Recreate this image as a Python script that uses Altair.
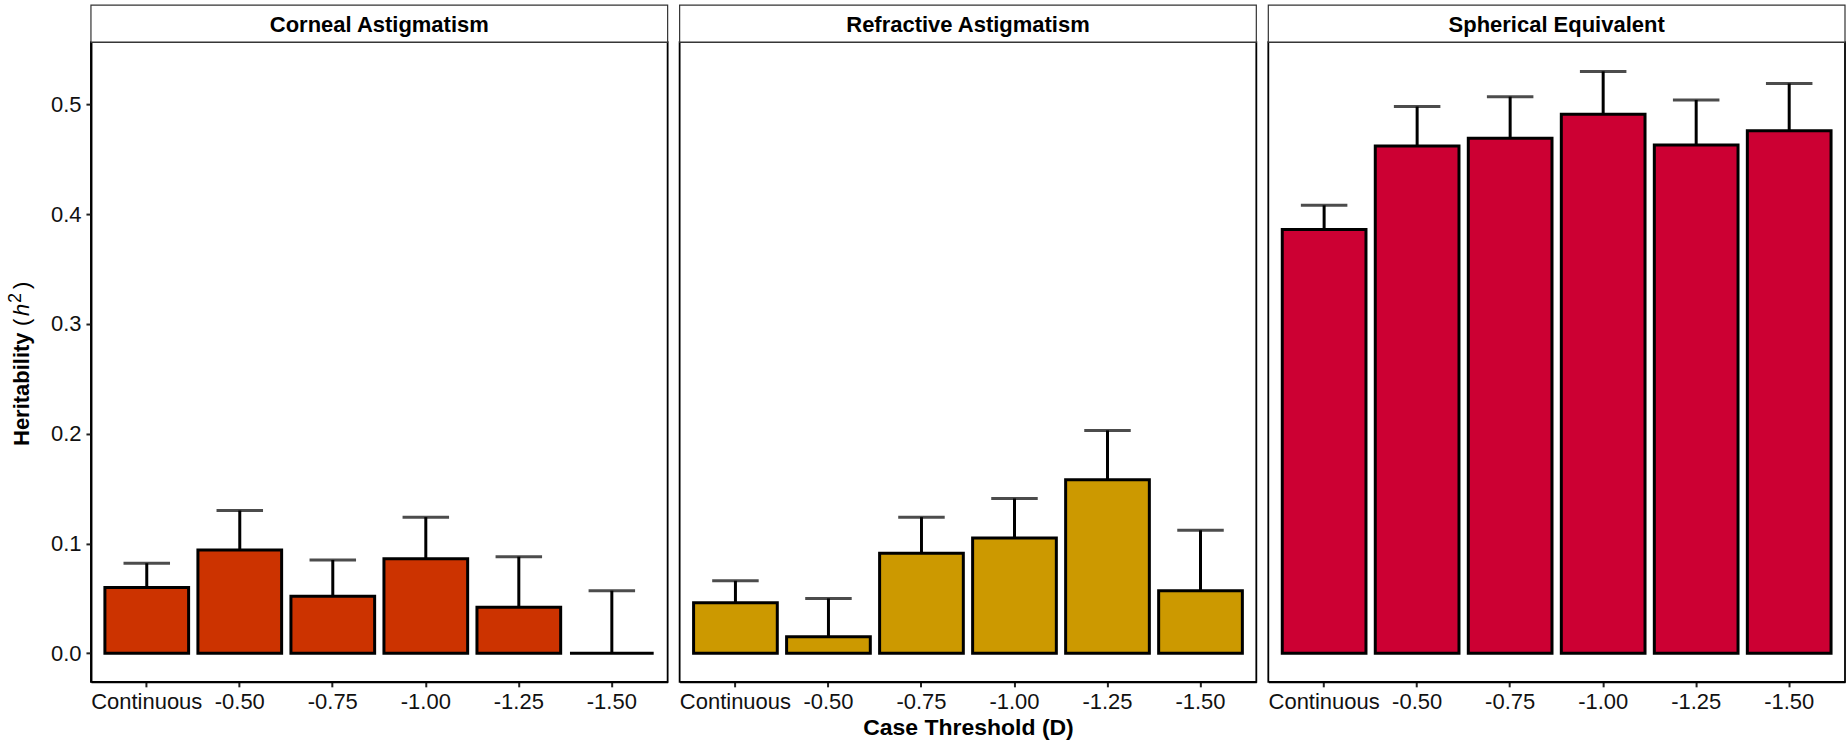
import altair as alt
import pandas as pd

# Case-threshold categories shared by every panel (x axis order)
categories = ["Continuous", "-0.50", "-0.75", "-1.00", "-1.25", "-1.50"]

# One panel per trait
traits = ["Corneal Astigmatism", "Refractive Astigmatism", "Spherical Equivalent"]
fill_colors = ["#CC3300", "#CC9900", "#CC0033"]

# SNP heritability estimates and their standard errors
h2_corneal = [0.060, 0.094, 0.052, 0.086, 0.042, 0.000]
se_corneal = [0.022, 0.036, 0.033, 0.038, 0.046, 0.057]

h2_refractive = [0.046, 0.015, 0.091, 0.105, 0.158, 0.057]
se_refractive = [0.020, 0.035, 0.033, 0.036, 0.045, 0.055]

h2_spherical = [0.386, 0.462, 0.469, 0.491, 0.463, 0.476]
se_spherical = [0.022, 0.036, 0.038, 0.039, 0.041, 0.043]

y_ticks = [0.0, 0.1, 0.2, 0.3, 0.4, 0.5]

FONT = "Liberation Sans"
W = 577          # plot width of each panel
H = 640          # plot height of each panel
STRIP = 37       # height of the facet strip
Y_DOMAIN = [-0.026, 0.5566]


def panel(trait, h2, se, color, first=False, middle=False):
    df = pd.DataFrame({"threshold": categories, "h2": h2, "se": se})
    base = alt.Chart(df).transform_calculate(upper="datum.h2 + datum.se")

    x = alt.X(
        "threshold:N",
        sort=categories,
        scale=alt.Scale(paddingInner=0.1, paddingOuter=0.15),
        axis=alt.Axis(
            title="Case Threshold (D)" if middle else None,
            labelAngle=0,
            labelOverlap=False,
            labelFontSize=22,
            labelColor="#111111",
            labelPadding=5,
            tickSize=5,
            tickWidth=2,
            tickColor="#222222",
            domainColor="#000000",
            domainWidth=2,
            titleFontSize=23,
            titleFontWeight="bold",
            titleColor="#000000",
            titlePadding=4,
        ),
    )
    y_scale = alt.Scale(domain=Y_DOMAIN, nice=False, zero=False)
    if first:
        y_axis = alt.Axis(
            title=None,
            values=y_ticks,
            format=".1f",
            grid=False,
            labelFontSize=22,
            labelColor="#111111",
            labelPadding=5,
            tickSize=5,
            tickWidth=2,
            tickColor="#222222",
            domainColor="#000000",
            domainWidth=2,
        )
    else:
        y_axis = None

    bars = base.mark_bar(fill=color, stroke="#000000", strokeWidth=3).encode(
        x=x,
        y=alt.Y("h2:Q", scale=y_scale, axis=y_axis),
        y2=alt.datum(0),
    )
    whisker = base.mark_rule(color="#000000", strokeWidth=3).encode(
        x=x, y=alt.Y("h2:Q", scale=y_scale), y2="upper:Q"
    )
    step = W / (len(categories) - 0.1 + 2 * 0.15)
    cap = base.mark_tick(color="#000000", thickness=3, size=0.5 * step).encode(
        x=x, y=alt.Y("upper:Q", scale=y_scale)
    )

    strip_df = pd.DataFrame({"trait": [trait]})
    strip_box = alt.Chart(strip_df).mark_rect(
        fill="#ffffff", stroke="#333333", strokeWidth=1.2
    ).encode(
        x=alt.value(0), x2=alt.value(W), y=alt.value(-STRIP), y2=alt.value(0)
    )
    strip_text = alt.Chart(strip_df).mark_text(
        font=FONT, fontSize=22, fontWeight="bold", color="#000000",
        align="center", baseline="middle",
    ).encode(x=alt.value(W / 2), y=alt.value(-STRIP / 2 + 1), text="trait:N")

    layers = [strip_box, strip_text, bars, whisker, cap]

    if first:
        # y-axis title: bold word followed by italic h with superscript 2
        title_df = pd.DataFrame({"t": ["Heritability", "(", "h", "2", ")"]})
        common = dict(font=FONT, angle=270, align="left", baseline="alphabetic",
                      color="#000000")
        word = alt.Chart(title_df).transform_filter("datum.t == 'Heritability'").mark_text(
            fontSize=22, fontWeight="bold", **common
        ).encode(x=alt.value(-62), y=alt.value(404), text="t:N")
        lpar = alt.Chart(title_df).transform_filter("datum.t == '('").mark_text(
            fontSize=22, **common
        ).encode(x=alt.value(-62), y=alt.value(284), text="t:N")
        h_it = alt.Chart(title_df).transform_filter("datum.t == 'h'").mark_text(
            fontSize=22, fontStyle="italic", **common
        ).encode(x=alt.value(-62), y=alt.value(274), text="t:N")
        sup = alt.Chart(title_df).transform_filter("datum.t == '2'").mark_text(
            fontSize=18, **common
        ).encode(x=alt.value(-70), y=alt.value(261), text="t:N")
        rpar = alt.Chart(title_df).transform_filter("datum.t == ')'").mark_text(
            fontSize=22, **common
        ).encode(x=alt.value(-62), y=alt.value(247), text="t:N")
        layers += [word, lpar, h_it, sup, rpar]

    return alt.layer(*layers).properties(width=W, height=H)


panels = [
    panel(traits[0], h2_corneal, se_corneal, fill_colors[0], first=True),
    panel(traits[1], h2_refractive, se_refractive, fill_colors[1], middle=True),
    panel(traits[2], h2_spherical, se_spherical, fill_colors[2]),
]

chart = (
    alt.hconcat(*panels, spacing=12, bounds="flush")
    .properties(padding={"left": 6, "top": 3, "right": 0, "bottom": 0})
    .configure(font=FONT, background="#ffffff")
    .configure_view(stroke="#000000", strokeWidth=1.8)
    .configure_axis(grid=False, labelFont=FONT, titleFont=FONT)
)

chart.save("out.html", embed_options={"renderer": "svg", "actions": False})
